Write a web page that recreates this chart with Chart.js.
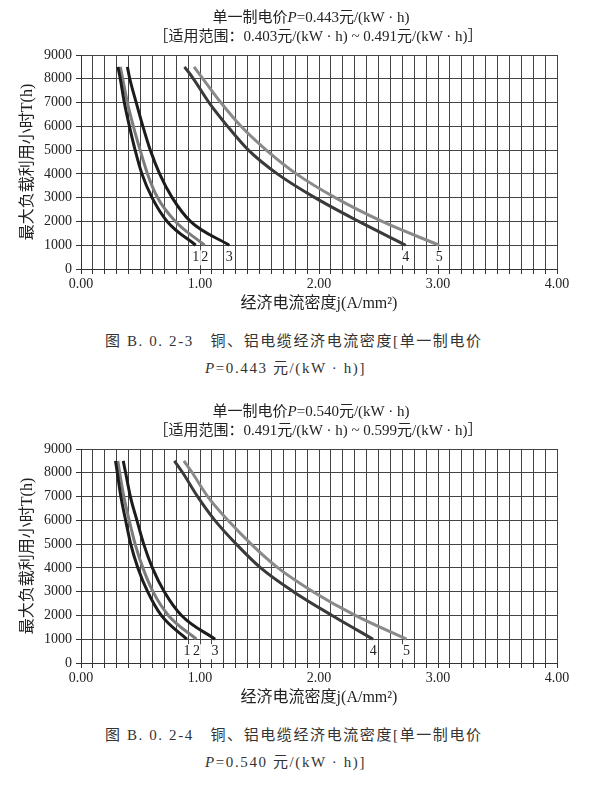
<!DOCTYPE html>
<html>
<head>
<meta charset="utf-8">
<script src="https://cdn.jsdelivr.net/npm/chart.js@4.4.0/dist/chart.umd.min.js"></script>
<style>
  html, body { margin: 0; padding: 0; background: #fff; }
  body { width: 602px; height: 786px; overflow: hidden; position: relative;
         font-family: "Liberation Serif", "Noto Sans CJK SC", serif; color: #222; }
  .sec { position: absolute; left: 0; width: 602px; height: 394px; }
  .sec canvas { position: absolute; left: 0; top: 0; }
  .ttl { position: absolute; width: 600px; text-align: center; white-space: nowrap;
         font-size: 15px; line-height: 18px; }
  .cap { position: absolute; white-space: nowrap; font-size: 15px; line-height: 18px;
         letter-spacing: 1.6px; color: #333; }
</style>
</head>
<body>

<div class="sec" style="top:0">
  <canvas id="chartA" width="602" height="313"></canvas>
  <div class="ttl" style="left:11px; top:8px">单一制电价<i>P</i>=0.443元/(kW · h)</div>
  <div class="ttl" style="left:18px; top:27px">［适用范围：0.403元/(kW · h) ~ 0.491元/(kW · h)］</div>
  <div class="cap" style="left:105px; top:332px">图 B. 0. 2-3　铜、铝电缆经济电流密度[单一制电价</div>
  <div class="cap" style="left:205px; top:359px"><i>P</i>=0.443 元/(kW · h)]</div>
</div>

<div class="sec" style="top:394px">
  <canvas id="chartB" width="602" height="313"></canvas>
  <div class="ttl" style="left:11px; top:8px">单一制电价<i>P</i>=0.540元/(kW · h)</div>
  <div class="ttl" style="left:18px; top:27px">［适用范围：0.491元/(kW · h) ~ 0.599元/(kW · h)］</div>
  <div class="cap" style="left:105px; top:332px">图 B. 0. 2-4　铜、铝电缆经济电流密度[单一制电价</div>
  <div class="cap" style="left:205px; top:359px"><i>P</i>=0.540 元/(kW · h)]</div>
</div>

<script>
// ---- data ----
const hours = [8500, 8000, 7000, 6000, 5000, 4000, 3000, 2000, 1000];
const curveNames = ['1', '2', '3', '4', '5'];
const xTickLabels = ['0.00', '1.00', '2.00', '3.00', '4.00'];
const yTitle = '最大负载利用小时T(h)';
const xTitle = '经济电流密度j(A/mm²)';

// Figure B.0.2-3, P = 0.443
const a1 = [0.31, 0.33, 0.364, 0.407, 0.455, 0.512, 0.597, 0.724, 0.964];
const a2 = [0.33, 0.35, 0.39, 0.44, 0.497, 0.559, 0.644, 0.794, 1.04];
const a3 = [0.39, 0.41, 0.464, 0.52, 0.582, 0.661, 0.766, 0.92, 1.246];
const a4 = [0.87, 0.945, 1.076, 1.232, 1.407, 1.65, 1.966, 2.334, 2.729];
const a5 = [0.95, 1.025, 1.175, 1.345, 1.557, 1.81, 2.136, 2.53, 3.01];

// Figure B.0.2-4, P = 0.540
const b1 = [0.29, 0.305, 0.335, 0.375, 0.418, 0.478, 0.56, 0.675, 0.89];
const b2 = [0.31, 0.325, 0.36, 0.405, 0.455, 0.52, 0.605, 0.735, 0.97];
const b3 = [0.355, 0.375, 0.415, 0.47, 0.527, 0.6, 0.7, 0.845, 1.127];
const b4 = [0.785, 0.855, 0.98, 1.125, 1.305, 1.51, 1.785, 2.11, 2.455];
const b5 = [0.865, 0.935, 1.065, 1.235, 1.43, 1.655, 1.95, 2.305, 2.735];

// ---- styles ----
const lineColors = ['#1c1c1c', '#7c7c7c', '#1c1c1c', '#3a3a3a', '#8a8a8a'];
const serif = '"Liberation Serif", "Noto Sans CJK SC", serif';

const endLabels = {
  id: 'endLabels',
  afterDatasetsDraw(chart) {
    const ctx = chart.ctx;
    ctx.save();
    ctx.font = '14px ' + serif;
    ctx.textAlign = 'center';
    ctx.textBaseline = 'middle';
    chart.data.datasets.forEach((ds, i) => {
      const meta = chart.getDatasetMeta(i);
      const pt = meta.data[meta.data.length - 1];
      const w = ctx.measureText(ds.label).width;
      ctx.fillStyle = '#fff';
      ctx.fillRect(pt.x - w / 2 - 1, pt.y + 5, w + 2, 15);
      ctx.fillStyle = '#222';
      ctx.fillText(ds.label, pt.x, pt.y + 12);
    });
    ctx.restore();
  }
};

function makeChart(id, series) {
  const datasets = series.map((vals, i) => ({
    label: curveNames[i],
    data: hours.map((h, k) => ({ x: vals[k], y: h })),
    borderColor: lineColors[i],
    borderWidth: 3,
    pointRadius: 0,
    fill: false,
    cubicInterpolationMode: 'monotone'
  }));
  return new Chart(document.getElementById(id), {
    type: 'line',
    data: { datasets },
    plugins: [endLabels],
    options: {
      responsive: false,
      animation: false,
      events: [],
      layout: { padding: { top: 55, right: 45, left: 18, bottom: 0 } },
      plugins: { legend: { display: false }, tooltip: { enabled: false }, title: { display: false } },
      scales: {
        x: {
          type: 'linear', min: 0, max: 4,
          afterFit: (s) => { s.height = 44; },
          grid: { color: '#444', lineWidth: 1, tickLength: 5, tickColor: '#333' },
          border: { color: '#333', width: 1 },
          ticks: {
            stepSize: 0.1, autoSkip: false, maxRotation: 0, padding: 2,
            color: '#222', font: { family: serif, size: 14 },
            callback: (v) => {
              const r = Math.round(v);
              return Math.abs(v - r) < 1e-6 ? xTickLabels[r] : '';
            }
          },
          title: { display: true, text: xTitle, color: '#222', padding: 0,
                   font: { family: serif, size: 16 } }
        },
        y: {
          min: 0, max: 9000,
          afterFit: (s) => { s.width = 63; },
          grid: { color: '#444', lineWidth: 1, tickLength: 5, tickColor: '#333' },
          border: { color: '#333', width: 1 },
          ticks: { stepSize: 1000, padding: 4, color: '#222', font: { family: serif, size: 14 },
                   callback: (v) => String(v) },
          title: { display: true, text: yTitle, color: '#222', padding: 0,
                   font: { family: serif, size: 16 } }
        }
      }
    }
  });
}

makeChart('chartA', [a1, a2, a3, a4, a5]);
makeChart('chartB', [b1, b2, b3, b4, b5]);
</script>
</body>
</html>
